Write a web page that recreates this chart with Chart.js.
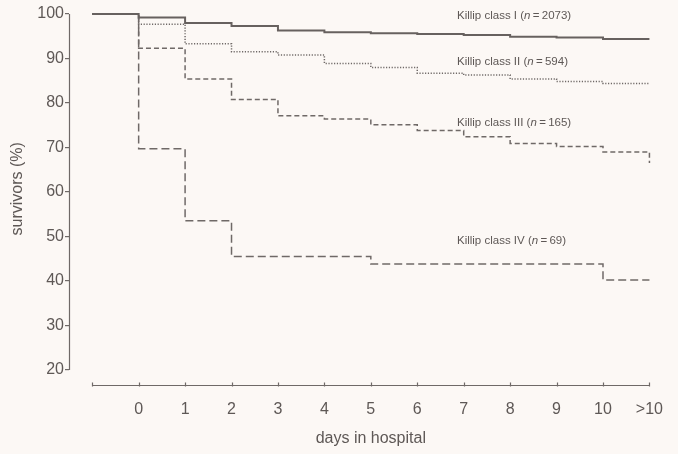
<!DOCTYPE html>
<html>
<head>
<meta charset="UTF-8">
<script src="https://cdn.jsdelivr.net/npm/chart.js@4.4.1/dist/chart.umd.min.js"></script>
<style>
    body { margin: 0; background: #fcf8f5; }
    #wrap { width: 678px; height: 454px; }
</style>
<script>
    // days in hospital (-1 is just the start of the curves, 11 is the ">10" column)
    var days = [-1, 0, 1, 2, 3, 4, 5, 6, 7, 8, 9, 10, 11];
    var xLabels = ['', '0', '1', '2', '3', '4', '5', '6', '7', '8', '9', '10', '>10'];
    var yTicks = [20, 30, 40, 50, 60, 70, 80, 90, 100];

    // survivors (%) after each day
    var classI   = [100, 99.2, 98.0, 97.3, 96.3, 95.9, 95.7, 95.5, 95.3, 94.9, 94.7, 94.4, 94.4];
    var classII  = [100, 97.7, 93.3, 91.5, 90.8, 88.9, 88.0, 86.7, 86.3, 85.4, 84.8, 84.4, 84.4];
    var classIII = [100, 92.3, 85.4, 80.8, 77.1, 76.4, 75.1, 73.8, 72.4, 70.9, 70.2, 69.0, 66.5];
    var classIV  = [100, 69.7, 53.5, 45.5, 45.5, 45.5, 43.8, 43.8, 43.8, 43.8, 43.8, 40.2, 40.2];

    var seriesNames = ['Killip class I', 'Killip class II', 'Killip class III', 'Killip class IV'];
    var seriesN = ['2073', '594', '165', '69'];
</script>
</head>
<body>
<div id="wrap"><canvas id="kmChart" width="678" height="454"></canvas></div>
<script>
    var inkColor = '#5e5856';
    var lineColor = '#6f6967';
    var fontFam = "'Liberation Sans', Arial, Helvetica, sans-serif";

    function pts(vals) {
        return days.map(function(d, i) { return {x: d, y: vals[i]}; });
    }

    function drawLabel(ctx, x, y, name, n) {
        ctx.font = '11.5px ' + fontFam;
        var a = name + ' (';
        ctx.fillText(a, x, y);
        x += ctx.measureText(a).width;
        ctx.font = 'italic 11.5px ' + fontFam;
        ctx.fillText('n', x, y);
        x += ctx.measureText('n').width;
        ctx.font = '11.5px ' + fontFam;
        ctx.fillText('\u2009=\u2009' + n + ')', x, y);
    }

    var frame = {
        id: 'frame',
        afterDraw: function(chart) {
            var ctx = chart.ctx, xs = chart.scales.x, ys = chart.scales.y, ca = chart.chartArea;
            ctx.save();
            ctx.strokeStyle = lineColor;
            ctx.lineWidth = 1.2;
            // y spine, only 20..100
            var yl = ca.left + 0.5;
            ctx.beginPath();
            ctx.moveTo(yl, ys.getPixelForValue(100));
            ctx.lineTo(yl, ys.getPixelForValue(20));
            ctx.stroke();
            // x spine from first to last day, small ticks
            var xb = ca.bottom + 0.5;
            ctx.beginPath();
            ctx.moveTo(xs.getPixelForValue(days[0]), xb);
            ctx.lineTo(xs.getPixelForValue(days[days.length - 1]), xb);
            days.forEach(function(d) {
                var px = Math.round(xs.getPixelForValue(d)) + 0.5;
                ctx.moveTo(px, xb - 3);
                ctx.lineTo(px, xb + 1);
            });
            ctx.stroke();

            // axis titles
            ctx.fillStyle = inkColor;
            ctx.font = '16px ' + fontFam;
            ctx.textAlign = 'center';
            ctx.textBaseline = 'middle';
            ctx.fillText('days in hospital', xs.getPixelForValue(5), ca.bottom + 54);
            ctx.save();
            ctx.translate(ca.left - 51, ys.getPixelForValue(60.7));
            ctx.rotate(-Math.PI / 2);
            ctx.fillText('survivors (%)', 0, 0);
            ctx.restore();

            // curve labels
            ctx.textAlign = 'left';
            var labelY = [99.55, 89.2, 75.5, 49.0];
            var lx = xs.getPixelForValue(6.855);
            for (var i = 0; i < seriesNames.length; i++) {
                drawLabel(ctx, lx, ys.getPixelForValue(labelY[i]), seriesNames[i], seriesN[i]);
            }
            ctx.restore();
        }
    };

    var ctx = document.getElementById('kmChart').getContext('2d');
    var kmChart = new Chart(ctx, {
        type: 'line',
        data: {
            datasets: [{
                label: seriesNames[0],
                data: pts(classI),
                borderColor: '#67615f',
                borderWidth: 2,
                stepped: 'before',
                clip: 4
            }, {
                label: seriesNames[1],
                data: pts(classII),
                borderColor: lineColor,
                borderWidth: 1.5,
                borderDash: [1.2, 1.6],
                stepped: 'before',
                clip: 4
            }, {
                label: seriesNames[2],
                data: pts(classIII),
                borderColor: lineColor,
                borderWidth: 1.5,
                borderDash: [5, 3],
                stepped: 'before',
                clip: 4
            }, {
                label: seriesNames[3],
                data: pts(classIV),
                borderColor: lineColor,
                borderWidth: 1.5,
                borderDash: [8, 4],
                stepped: 'before',
                clip: 4
            }]
        },
        options: {
            responsive: false,
            animation: false,
            elements: { point: { radius: 0 }, line: { borderCapStyle: 'butt' } },
            layout: { padding: { left: 28, right: 21, top: 14, bottom: 35 } },
            plugins: { legend: { display: false }, tooltip: { enabled: false } },
            scales: {
                x: {
                    type: 'linear',
                    min: -1.5,
                    max: 11,
                    afterBuildTicks: function(s) { s.ticks = days.map(function(d) { return {value: d}; }); },
                    afterFit: function(s) { s.height = 34; },
                    grid: { display: false, drawTicks: false },
                    border: { display: false },
                    ticks: {
                        padding: 15,
                        color: inkColor,
                        font: { size: 16, family: fontFam },
                        maxRotation: 0,
                        autoSkip: false,
                        callback: function(v) { return xLabels[days.indexOf(v)]; }
                    }
                },
                y: {
                    min: 16.6,
                    max: 100,
                    afterBuildTicks: function(s) { s.ticks = yTicks.map(function(v) { return {value: v}; }); },
                    afterFit: function(s) { s.width = 41; },
                    grid: { drawOnChartArea: false, drawTicks: true, tickLength: 4, color: lineColor, lineWidth: 1.2 },
                    border: { display: false },
                    ticks: {
                        padding: 1,
                        color: inkColor,
                        font: { size: 16, family: fontFam }
                    }
                }
            }
        },
        plugins: [frame]
    });
</script>
</body>
</html>
